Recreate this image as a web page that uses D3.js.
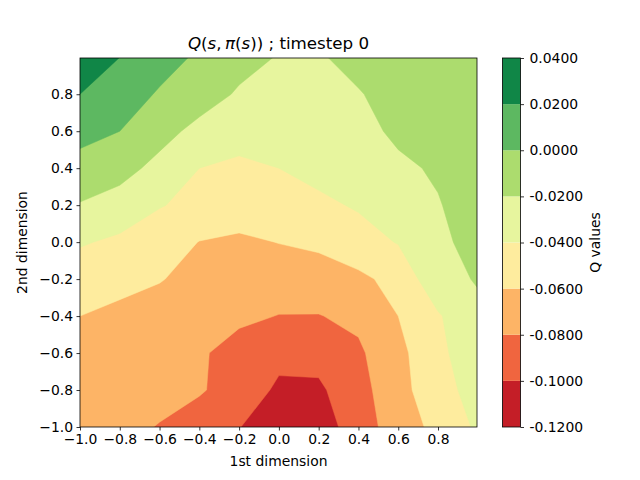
<!DOCTYPE html>
<html>
<head>
<meta charset="utf-8">
<script src="https://cdn.jsdelivr.net/npm/d3@7"></script>
<style>
  body { margin: 0; background: #fff; }
  svg { font-family: "DejaVu Sans", sans-serif; }
</style>
</head>
<body>
<div id="chart"></div>
<script>
// grid positions (step 0.2) and Q values, row by row from y = -1 upward
const xGrid = [-1.0, -0.8, -0.6, -0.4, -0.2, 0.0, 0.2, 0.4, 0.6, 0.8, 1.0];
const yGrid = [-1.0, -0.8, -0.6, -0.4, -0.2, 0.0, 0.2, 0.4, 0.6, 0.8, 1.0];

const rowYm10 = [-0.068, -0.073, -0.0812, -0.090, -0.0995, -0.110, -0.108, -0.092, -0.068, -0.0557, -0.0367];
const rowYm08 = [-0.066, -0.068, -0.072, -0.078, -0.089, -0.1032, -0.103, -0.088, -0.0651, -0.0505, -0.0295];
const rowYm06 = [-0.063, -0.066, -0.070, -0.078, -0.086, -0.095, -0.094, -0.083, -0.066, -0.043, -0.032];
const rowYm04 = [-0.060, -0.064, -0.068, -0.073, -0.077, -0.0804, -0.0806, -0.076, -0.060, -0.042, -0.024];
const rowYm02 = [-0.052, -0.055, -0.059, -0.066, -0.070, -0.072, -0.070, -0.064, -0.054, -0.026, -0.0187];
const rowY00 = [-0.038, -0.044, -0.050, -0.0605, -0.064, -0.0595, -0.056, -0.048, -0.039, -0.025, -0.012];
const rowY02 = [-0.021, -0.027, -0.039, -0.045, -0.048, -0.047, -0.044, -0.038, -0.030, -0.021, -0.012];
const rowY04 = [-0.009, -0.014, -0.025, -0.040, -0.044, -0.040, -0.034, -0.028, -0.023, -0.018, -0.010];
const rowY06 = [0.008, 0.0, -0.014, -0.025, -0.032, -0.034, -0.030, -0.025, -0.017, -0.012, -0.008];
const rowY08 = [0.020, 0.010, -0.002, -0.012, -0.022, -0.026, -0.025, -0.021, -0.014, -0.010, -0.006];
const rowY10 = [0.030, 0.020, 0.008, -0.003, -0.014, -0.021, -0.0215, -0.015, -0.010, -0.007, -0.004];

const qRows = [rowYm10, rowYm08, rowYm06, rowYm04, rowYm02, rowY00, rowY02, rowY04, rowY06, rowY08, rowY10];

const levels = [-0.12, -0.10, -0.08, -0.06, -0.04, -0.02, 0.0, 0.02, 0.04];
const bandColors = ['#c41e27', '#f0653f', '#fdb466', '#feec9e', '#e7f59e', '#acdc6e', '#5db861', '#108647'];
const axisTicks = [-1.0, -0.8, -0.6, -0.4, -0.2, 0.0, 0.2, 0.4, 0.6, 0.8];

const width = 640;
const height = 480;
const plot = { left: 80, right: 477, top: 58, bottom: 427 };
const cbar = { left: 502.5, right: 520.5, top: 58, bottom: 427 };

const svg = d3.select('#chart')
  .append('svg')
  .attr('width', width)
  .attr('height', height);

const x = d3.scaleLinear().domain([-1, 0.996]).range([plot.left, plot.right]);
const y = d3.scaleLinear().domain([-1, 0.996]).range([plot.bottom, plot.top]);

// contour bands
const nx = xGrid.length;
const ny = yGrid.length;
const values = qRows.flat();
const step = xGrid[1] - xGrid[0];

const contours = d3.contours()
  .size([nx, ny])
  .thresholds(levels.slice(0, -1))(values);

// d3.contours puts value i at grid coordinate i + 0.5
const toPx = ([cx, cy]) => [
  x(xGrid[0] + (cx - 0.5) * step),
  y(yGrid[0] + (cy - 0.5) * step)
];

const ringPath = ring => 'M' + ring.map(p => toPx(p).join(',')).join('L') + 'Z';

svg.append('clipPath')
  .attr('id', 'plot-clip')
  .append('rect')
  .attr('x', plot.left)
  .attr('y', plot.top)
  .attr('width', plot.right - plot.left)
  .attr('height', plot.bottom - plot.top);

svg.append('g')
  .attr('clip-path', 'url(#plot-clip)')
  .selectAll('path')
  .data(contours)
  .enter()
  .append('path')
  .attr('d', c => c.coordinates.map(poly => poly.map(ringPath).join('')).join(''))
  .attr('fill', (c, i) => bandColors[i])
  .attr('fill-rule', 'evenodd')
  .attr('stroke', (c, i) => bandColors[i])
  .attr('stroke-width', 0.5);

// axes
const fmt = d3.format('.1f');

const xAxis = svg.append('g')
  .attr('transform', `translate(0,${plot.bottom})`)
  .call(d3.axisBottom(x).tickValues(axisTicks).tickFormat(fmt).tickSize(3.5).tickPadding(3.5));

const yAxis = svg.append('g')
  .attr('transform', `translate(${plot.left},0)`)
  .call(d3.axisLeft(y).tickValues(axisTicks).tickFormat(fmt).tickSize(3.5).tickPadding(3.5));

[xAxis, yAxis].forEach(a => {
  a.select('.domain').remove();
  a.selectAll('text').attr('font-size', 13.9).attr('font-family', '"DejaVu Sans", sans-serif').attr('fill', '#000');
  a.selectAll('line').attr('stroke', '#000').attr('stroke-width', 0.8);
});

svg.append('rect')
  .attr('x', plot.left)
  .attr('y', plot.top)
  .attr('width', plot.right - plot.left)
  .attr('height', plot.bottom - plot.top)
  .attr('fill', 'none')
  .attr('stroke', '#000')
  .attr('stroke-width', 0.8);

// title & labels
const title = svg.append('text')
  .attr('x', (plot.left + plot.right) / 2)
  .attr('y', 49)
  .attr('text-anchor', 'middle')
  .attr('font-size', 16.7);

[['Q', true], ['(', false], ['s', true], [',\u2009', false], ['π', true], ['(', false], ['s', true], [')) ; timestep 0', false]]
  .forEach(([t, it]) => title.append('tspan').attr('font-style', it ? 'italic' : 'normal').text(t));

svg.append('text')
  .attr('x', (plot.left + plot.right) / 2)
  .attr('y', 466)
  .attr('text-anchor', 'middle')
  .attr('font-size', 13.9)
  .text('1st dimension');

svg.append('text')
  .attr('transform', `translate(27,${(plot.top + plot.bottom) / 2}) rotate(-90)`)
  .attr('text-anchor', 'middle')
  .attr('font-size', 13.9)
  .text('2nd dimension');

// colorbar
const cy = d3.scaleLinear().domain([levels[0], levels[levels.length - 1]]).range([cbar.bottom, cbar.top]);

const cb = svg.append('g');

cb.selectAll('rect.band')
  .data(bandColors)
  .enter()
  .append('rect')
  .attr('class', 'band')
  .attr('x', cbar.left)
  .attr('width', cbar.right - cbar.left)
  .attr('y', (c, i) => cy(levels[i + 1]))
  .attr('height', (c, i) => cy(levels[i]) - cy(levels[i + 1]))
  .attr('fill', c => c);

cb.append('rect')
  .attr('x', cbar.left)
  .attr('y', cbar.top)
  .attr('width', cbar.right - cbar.left)
  .attr('height', cbar.bottom - cbar.top)
  .attr('fill', 'none')
  .attr('stroke', '#000')
  .attr('stroke-width', 0.8);

const cbAxis = cb.append('g')
  .attr('transform', `translate(${cbar.right},0)`)
  .call(d3.axisRight(cy).tickValues(levels).tickFormat(d => d.toFixed(4)).tickSize(3.5).tickPadding(5.5));

cbAxis.select('.domain').remove();
cbAxis.selectAll('text').attr('font-size', 13.9).attr('font-family', '"DejaVu Sans", sans-serif').attr('fill', '#000');
cbAxis.selectAll('line').attr('stroke', '#000').attr('stroke-width', 0.8);

svg.append('text')
  .attr('transform', `translate(600,${(cbar.top + cbar.bottom) / 2}) rotate(-90)`)
  .attr('text-anchor', 'middle')
  .attr('font-size', 13.9)
  .text('Q values');
</script>
</body>
</html>
